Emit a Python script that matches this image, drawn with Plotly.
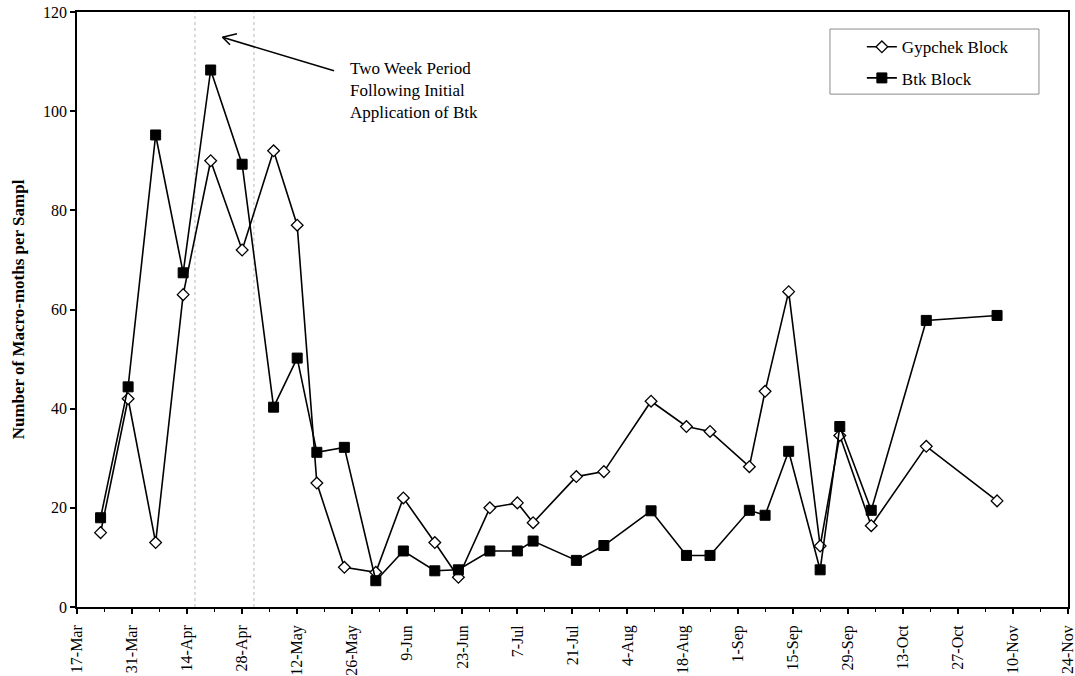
import plotly.graph_objects as go

# Sampling dates and mean macro-moth counts per sample
sample_dates = [
    "1995-03-23", "1995-03-30", "1995-04-06", "1995-04-13", "1995-04-20",
    "1995-04-28", "1995-05-06", "1995-05-12", "1995-05-17", "1995-05-24",
    "1995-06-01", "1995-06-08", "1995-06-16", "1995-06-22", "1995-06-30",
    "1995-07-07", "1995-07-11", "1995-07-22", "1995-07-29", "1995-08-10",
    "1995-08-19", "1995-08-25", "1995-09-04", "1995-09-08", "1995-09-14",
    "1995-09-22", "1995-09-27", "1995-10-05", "1995-10-19", "1995-11-06",
]
gypchek_block = [
    15, 42, 13, 63, 90, 72, 92, 77, 25, 8,
    7, 22, 13, 6, 20, 21, 17, 26.3, 27.3, 41.5,
    36.4, 35.4, 28.3, 43.5, 63.6, 12.3, 34.6, 16.4, 32.4, 21.4,
]
btk_block = [
    18, 44.4, 95.2, 67.4, 108.3, 89.3, 40.3, 50.2, 31.2, 32.2,
    5.3, 11.3, 7.3, 7.5, 11.3, 11.3, 13.3, 9.4, 12.4, 19.4,
    10.4, 10.4, 19.5, 18.5, 31.4, 7.5, 36.4, 19.5, 57.8, 58.8,
]

# Two-week window after the first Btk application
btk_window = ["1995-04-16", "1995-05-01"]

# Axis span (end nudged so the last tick label is kept)
x_range = ["1995-03-17", "1995-11-24 01:00"]
x_tick_start = "1995-03-17"
y_ticks = [0, 20, 40, 60, 80, 100, 120]

DAY_MS = 86400000
SERIF = "Liberation Serif, Times New Roman, serif"

fig = go.Figure()

fig.add_trace(go.Scatter(
    x=sample_dates, y=gypchek_block, mode="lines+markers",
    name="Gypchek Block", legendgroup="g1",
    line=dict(color="black", width=1.6),
    marker=dict(symbol="diamond", size=9, color="white",
                line=dict(color="black", width=1.3)),
))
fig.add_trace(go.Scatter(
    x=sample_dates, y=btk_block, mode="lines+markers",
    name="Btk Block", legendgroup="g2",
    line=dict(color="black", width=1.6),
    marker=dict(symbol="square", size=10, color="black",
                line=dict(color="black", width=1)),
))

# Dotted markers bounding the two-week period
for d in btk_window:
    fig.add_shape(type="line", x0=d, x1=d, y0=0, y1=1, xref="x", yref="y domain",
                  line=dict(color="#b8b8b8", width=1, dash="dot"), layer="below")

# Legend frame
fig.add_shape(type="rect", xref="paper", yref="paper",
              x0=0.7598, x1=0.9707, y0=0.862, y1=0.9714,
              line=dict(color="#8c8c8c", width=1), fillcolor="rgba(0,0,0,0)")

# Arrow pointing at the Btk window, with an open V head
fig.add_annotation(x="1995-04-23", y=114.9, xref="x", yref="y", text="",
                   showarrow=True, arrowhead=0, arrowwidth=1.6, arrowcolor="black",
                   ax=113, ay=34)
fig.add_annotation(x="1995-04-23", y=114.9, xref="x", yref="y", text="",
                   showarrow=True, arrowhead=0, arrowwidth=1.6, arrowcolor="black",
                   ax=16, ay=-4)
fig.add_annotation(x="1995-04-23", y=114.9, xref="x", yref="y", text="",
                   showarrow=True, arrowhead=0, arrowwidth=1.6, arrowcolor="black",
                   ax=9, ay=9)
fig.add_annotation(x="1995-05-25", y=111, xref="x", yref="y",
                   text="Two Week Period<br>Following Initial<br>Application of Btk",
                   showarrow=False, xanchor="left", yanchor="top", align="left",
                   font=dict(family=SERIF, size=17, color="black"))

fig.update_layout(
    width=1075, height=676,
    margin=dict(l=77, r=7, t=12, b=69, autoexpand=False),
    paper_bgcolor="white", plot_bgcolor="white",
    showlegend=True,
    legend=dict(x=0.792, y=0.971, xanchor="left", yanchor="top",
                bgcolor="rgba(0,0,0,0)", borderwidth=0,
                tracegroupgap=6,
                font=dict(family=SERIF, size=17, color="black")),
    font=dict(family=SERIF, color="black"),
)

fig.update_xaxes(
    type="date", range=x_range, automargin=False,
    tick0=x_tick_start, dtick=14 * DAY_MS, tickformat="%-d-%b",
    tickangle=-90, tickfont=dict(family=SERIF, size=16, color="black"),
    ticklabelstandoff=5, ticklabeloverflow="allow",
    ticks="outside", ticklen=5, tickwidth=1.5, tickcolor="black",
    minor=dict(tick0=x_tick_start, dtick=7 * DAY_MS, ticks="outside",
               ticklen=3, tickwidth=1, tickcolor="black"),
    showline=True, linecolor="black", linewidth=1.6, mirror=True,
    showgrid=False, zeroline=False,
)
fig.update_yaxes(
    range=[0, 120], tickvals=y_ticks, automargin=False,
    tickfont=dict(family=SERIF, size=16, color="black"),
    ticks="outside", ticklen=5, tickwidth=1.5, tickcolor="black",
    showline=True, linecolor="black", linewidth=1.6, mirror=True,
    showgrid=False, zeroline=False,
    title=dict(text="<b>Number of Macro-moths per Sampl</b>",
               font=dict(family=SERIF, size=17, color="black"), standoff=14),
)

fig.write_html("out.html")
